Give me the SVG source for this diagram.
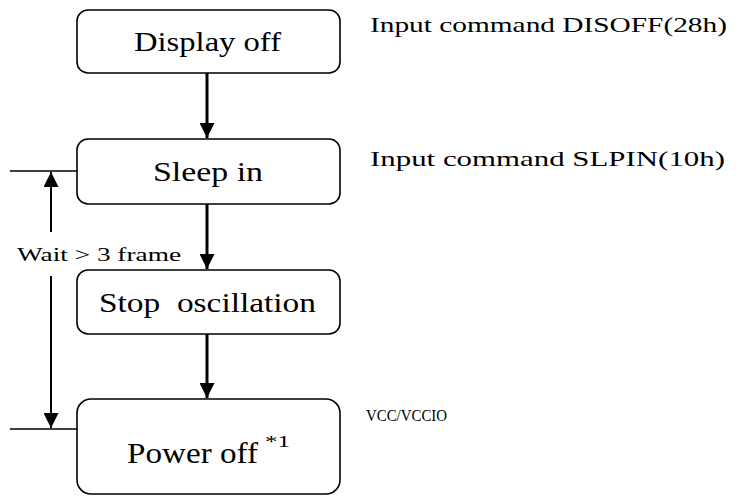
<svg xmlns="http://www.w3.org/2000/svg" width="740" height="496" viewBox="0 0 740 496">
<style>
.box{fill:#fff;stroke:#000;stroke-width:1.6}
.t{font-family:"Liberation Serif","DejaVu Serif",serif;fill:#000}
.main{stroke:#000;stroke-width:3;fill:none}
.side{stroke:#000;stroke-width:2;fill:none}
.thin{stroke:#000;stroke-width:1.5;fill:none}
</style>
<defs>
<marker id="ah" viewBox="0 0 10 10" refX="10" refY="5" markerWidth="15" markerHeight="15" markerUnits="userSpaceOnUse" orient="auto">
<path d="M0,0 L10,5 L0,10 z" fill="#000"/>
</marker>
</defs>
<rect width="740" height="496" fill="#fff"/>
<g id="connectors">
<line class="main" x1="207" y1="73" x2="207" y2="138" marker-end="url(#ah)"/>
<line class="main" x1="207" y1="204" x2="207" y2="269" marker-end="url(#ah)"/>
<line class="main" x1="207" y1="334" x2="207" y2="398" marker-end="url(#ah)"/>
<line class="thin" x1="10" y1="171" x2="77" y2="171"/>
<line class="thin" x1="10" y1="429" x2="77" y2="429"/>
<line class="side" x1="51" y1="232" x2="51" y2="172" marker-end="url(#ah)"/>
<line class="side" x1="51" y1="276" x2="51" y2="428" marker-end="url(#ah)"/>
<text class="t" x="17" y="261" font-size="19" textLength="164" lengthAdjust="spacingAndGlyphs">Wait &gt; 3 frame</text>
</g>
<g id="display-off">
<rect class="box" x="77" y="10" width="263" height="63" rx="11"/>
<text class="t" x="134" y="51" font-size="27" textLength="147" lengthAdjust="spacingAndGlyphs">Display off</text>
</g>
<g id="sleep-in">
<rect class="box" x="77" y="139" width="263" height="65" rx="11"/>
<text class="t" x="153" y="181" font-size="27" textLength="110" lengthAdjust="spacingAndGlyphs">Sleep in</text>
</g>
<g id="stop-oscillation">
<rect class="box" x="77" y="270" width="263" height="64" rx="11"/>
<text class="t" x="99" y="312" font-size="27" textLength="217" lengthAdjust="spacingAndGlyphs" xml:space="preserve">Stop  oscillation</text>
</g>
<g id="power-off">
<rect class="box" x="77" y="399" width="263" height="95" rx="14"/>
<text class="t" x="127" y="463" font-size="29" textLength="131" lengthAdjust="spacingAndGlyphs">Power off</text>
<text class="t" x="265" y="447" font-size="17" textLength="25" lengthAdjust="spacingAndGlyphs">*1</text>
</g>
<g id="notes">
<text class="t" x="370" y="32" font-size="21" textLength="357" lengthAdjust="spacingAndGlyphs">Input command DISOFF(28h)</text>
<text class="t" x="370" y="166" font-size="21" textLength="355" lengthAdjust="spacingAndGlyphs">Input command SLPIN(10h)</text>
<text class="t" x="366" y="421" font-size="16" textLength="81" lengthAdjust="spacingAndGlyphs">VCC/VCCIO</text>
</g>
</svg>
